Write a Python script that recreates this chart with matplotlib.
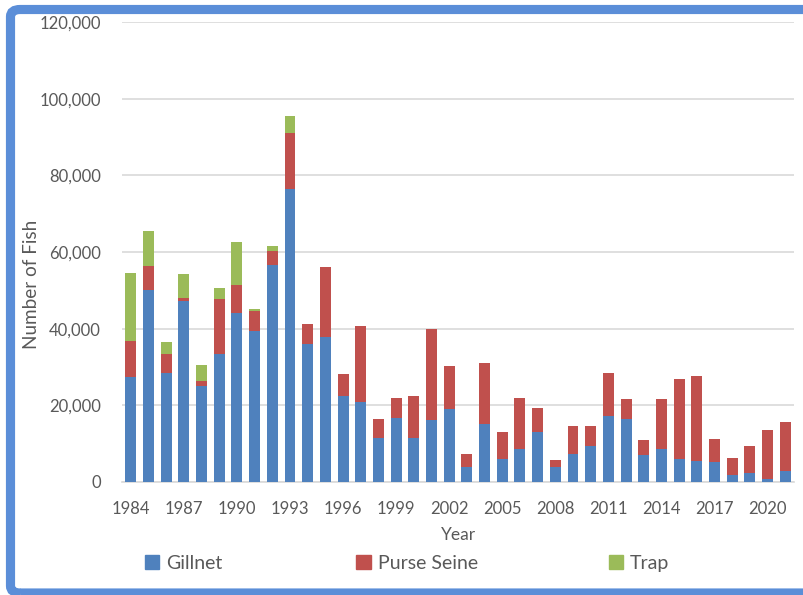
import numpy as np
import matplotlib.pyplot as plt
from matplotlib.patches import FancyBboxPatch, Patch
from matplotlib.ticker import FuncFormatter

# landings by gear type --------------------------------------------------

years = list(range(1984, 2022))

gillnet = [27.5, 50.1, 28.4, 47.3, 25.1, 33.3, 44.2, 39.5, 56.6, 76.4,
           35.9, 37.9, 22.4, 20.9, 11.5, 16.7, 11.5, 16.2, 19.0, 3.8,
           15.0, 6.1, 8.6, 13.1, 3.8, 7.3, 9.4, 17.2, 16.4, 7.1,
           8.7, 5.9, 5.5, 5.1, 1.7, 2.3, 0.9, 2.9]

purse_seine = [9.3, 6.2, 5.0, 0.7, 1.2, 14.4, 7.3, 5.0, 3.7, 14.7,
               5.3, 18.1, 5.7, 19.9, 4.8, 5.2, 10.9, 23.8, 11.2, 3.6,
               16.1, 6.9, 13.3, 6.1, 1.9, 7.2, 5.1, 11.2, 5.3, 3.8,
               13.0, 21.0, 22.1, 6.2, 4.6, 7.2, 12.6, 12.7]

trap = [17.8, 9.1, 3.1, 6.2, 4.3, 3.0, 11.0, 0.6, 1.3, 4.4] + [0.0] * 28

# values above are in thousands of fish
gillnet = np.array(gillnet) * 1000
purse_seine = np.array(purse_seine) * 1000
trap = np.array(trap) * 1000

year_ticks = list(range(1984, 2022, 3))

# colours ----------------------------------------------------------------

C_GILL = "#4F81BD"
C_PS = "#C0504D"
C_TRAP = "#9BBB59"
C_TEXT = "#595959"
C_GRID = "#D9D9D9"

plt.rcParams["font.family"] = ["Lato", "DejaVu Sans"]

fig = plt.figure(figsize=(8.04, 5.95), dpi=100)
ax = fig.add_axes([0.1517, 0.190, 0.836, 0.773])

x = np.arange(len(years))
w = 0.62
ax.bar(x, gillnet, w, color=C_GILL, zorder=3)
ax.bar(x, purse_seine, w, bottom=gillnet, color=C_PS, zorder=3)
ax.bar(x, trap, w, bottom=gillnet + purse_seine, color=C_TRAP, zorder=3)

ax.set_xlim(-0.5, len(years) - 0.5)
ax.set_ylim(0, 120000)
ax.set_yticks(np.arange(0, 120001, 20000))
ax.yaxis.set_major_formatter(FuncFormatter(lambda v, p: f"{int(v):,}"))
ax.set_xticks([years.index(y) for y in year_ticks])
ax.set_xticklabels([str(y) for y in year_ticks])

ax.grid(axis="y", color=C_GRID, linewidth=1.2, zorder=0)
for s in ["top", "right", "left"]:
    ax.spines[s].set_visible(False)
ax.spines["bottom"].set_color(C_GRID)
ax.spines["bottom"].set_linewidth(1.2)
ax.tick_params(axis="both", length=0, labelsize=12, colors=C_TEXT)
ax.tick_params(axis="y", pad=15)
ax.tick_params(axis="x", pad=14)

ax.set_xlabel("Year", fontsize=12.5, color=C_TEXT)
ax.xaxis.set_label_coords(0.5, -0.097)
ax.set_ylabel("Number of Fish", fontsize=13.6, color=C_TEXT)
ax.yaxis.set_label_coords(-0.122, 0.43)

# one legend entry per gear, spread across the bottom
entries = [("Gillnet", C_GILL, 0.180), ("Purse Seine", C_PS, 0.443),
           ("Trap", C_TRAP, 0.757)]
for label, col, xpos in entries:
    lg = fig.legend(handles=[Patch(color=col, label=label)], loc="center left",
                    bbox_to_anchor=(xpos, 0.053), frameon=False, fontsize=14,
                    handlelength=0.75, handleheight=0.75, handletextpad=0.35,
                    borderaxespad=0, borderpad=0)
    for t in lg.get_texts():
        t.set_color(C_TEXT)

# outer frame
frame = FancyBboxPatch((10.5 / 804, 2 / 595), 1.2, 583.5 / 595,
                       boxstyle="round,pad=0,rounding_size=0.012",
                       transform=fig.transFigure, fill=False,
                       edgecolor="#5B8ED8", linewidth=6.6, zorder=10)
fig.patches.append(frame)

fig.savefig("out.png", dpi=100)
